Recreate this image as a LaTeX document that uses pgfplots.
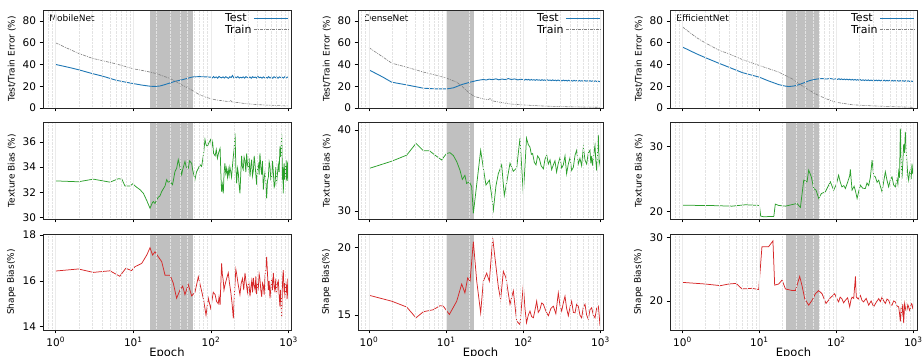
\documentclass[border=0pt]{standalone}
\usepackage{fontspec}
\setmainfont{DejaVu Sans}
\usepackage{pgfplots}
\pgfplotsset{compat=1.18}
\pgfkeys{/pgf/number format/assume math mode=true}
\definecolor{tblue}{HTML}{1F77B4}
\definecolor{tgreen}{HTML}{2CA02C}
\definecolor{tred}{HTML}{D62728}
\definecolor{shade}{HTML}{C0C0C0}
\definecolor{tgray}{HTML}{7F7F7F}
\tikzset{
 rsTest/.style={tblue, line width=0.9pt},
 rsTrain/.style={tgray, line width=0.6pt, dash pattern=on 3pt off 1pt on 1pt off 1pt},
 rsGreen/.style={tgreen, line width=0.75pt},
 rsRed/.style={tred, line width=0.75pt},
}
\pgfplotsset{
 every axis/.append style={
  scale only axis, axis on top,
  tick align=outside, tick pos=left,
  xmajorgrids, xminorgrids,
  minor grid style={densely dotted, black!11, line width=0.5pt},
  major grid style={black!8, line width=0.9pt},
  axis line style={line width=0.9pt, black!85},
  major tick length=3.5pt, minor tick length=0pt,
  tick style={black, line width=0.6pt},
  tick label style={font=\fontsize{10.5}{12}\selectfont},
  label style={font=\fontsize{9}{10}\selectfont},
 },
 legend image code/.code={\draw[#1] (0.25cm,0cm) -- (1.45cm,0cm);},
}
\newcommand{\mtx}{0.7,0.8,0.9,2,3,4,5,6,7,8,9,20,30,40,50,60,70,80,90,200,300,400,500,600,700,800,900}

\begin{document}
\begin{tikzpicture}
\useasboundingbox (0pt,0pt) rectangle (922pt,356pt);

% ================= Column 1: MobileNet =================
\begin{axis}[xmode=log, xtick={1,10,100,1000}, minor xtick/.expanded={\mtx}, xticklabels={},
 at={(43pt,248pt)}, anchor=south west, width=248pt, height=98pt, xmin=0.687, xmax=1072,
 ymin=0, ymax=90, ytick={0,20,40,60,80}, ylabel={Test/Train Error (\%)},
 legend plot pos=right, legend cell align=left,
 legend style={draw=none, fill=none, at={(0.995,1.0)}, anchor=north east, font=\fontsize{11}{12}\selectfont, row sep=-2pt, inner sep=1pt}]
\addplot[fill=shade, draw=none, forget plot] coordinates {(16.4,0)(59,0)(59,90)(16.4,90)};
\addplot[rsTest] coordinates {(1,40)(1.5,37.2)(2,35)(3,31.5)(4,29.3)(6,25.5)(8,23.7)(10,22.4)(13,21)(16.4,20)(19,19.8)(22,20.2)(25,21.3)(29.7,23)(35,24.6)(43,26)(50,27.3)(58,28.5)(70,28.8)(85,28.6)
(100,28.3)(104,27.6)(108,28.9)(112,27.8)(117,28.5)(122,27.4)(127,29.0)(132,28.1)(137,27.7)(143,28.6)(149,27.5)(155,28.8)(161,28.0)(168,27.3)(175,28.7)(182,27.9)(189,29.8)(197,27.6)(205,28.4)(213,27.8)(222,28.9)(231,27.5)(240,28.2)(250,27.7)(260,28.6)(271,27.4)(282,28.8)(293,28.0)(305,27.6)(317,28.5)(330,27.3)(343,28.7)(357,27.9)(372,28.4)(387,27.5)(403,28.9)(419,27.8)(436,28.3)(454,27.4)(472,28.6)(491,27.7)(511,28.2)(532,27.5)(553,28.8)(576,27.6)(599,28.4)(623,27.3)(648,28.7)(675,27.8)(702,28.5)(730,27.4)(760,28.6)(791,27.9)(823,28.3)(856,27.5)(891,28.7)(927,27.6)(965,28.4)(1000,27.8)};
\addlegendentry{Test}
\addplot[rsTrain] coordinates {(1,59.8)(1.5,54)(2,50)(3,45.5)(4,43.5)(6,40.5)(8,38)(10,36)(13,34.5)(16.4,33)(20,31.5)(25,29)(30,27)(35,24.5)(40,22)(50,18.5)(58,16)(70,12.5)(85,10)(99,8.6)(110,7.8)(120,7.3)(135,6.8)(150,6.3)(165,6.0)(175,5.8)(180,6.8)(185,5.6)(200,5.4)(220,5.0)(240,4.7)(260,4.3)(280,4.0)(300,3.8)(330,3.6)(351,3.4)(400,3.1)(450,2.9)(500,2.7)(600,2.5)(700,2.3)(800,2.1)(900,2.0)(990,2.0)};
\addlegendentry{Train}
\node[anchor=north west, inner sep=0pt, font=\fontsize{9}{10}\selectfont] at (rel axis cs:0.025,0.95) {MobileNet};
\end{axis}

\begin{axis}[xmode=log, xtick={1,10,100,1000}, minor xtick/.expanded={\mtx}, xticklabels={},
 at={(43pt,137pt)}, anchor=south west, width=248pt, height=97pt, xmin=0.687, xmax=1072,
 ymin=29.86, ymax=37.6, ytick={30,32,34,36}, ylabel={Texture Bias (\%)}]
\addplot[fill=shade, draw=none, forget plot] coordinates {(16.4,29.86)(59,29.86)(59,37.6)(16.4,37.6)};
\addplot[rsGreen] coordinates {(1,32.9)(1.96,32.83)(3.05,33.04)(5,32.8)(6.4,33.07)(7.1,33.05)(7.8,32.5)(9.1,32.5)(9.8,32.67)(11,32.4)(12.2,32.2)(13.5,31.9)(14.9,31.33)(16.4,30.72)(17.7,31.2)(18.1,31.25)(19,31.1)(20,31.4)(21,31.6)(22,31.7)(23.2,32.05)(25.6,32.5)(26.9,33)(28,32.8)(29.7,32.85)(32,32.6)(34.4,33.65)(36.1,33.9)(37.9,34.6)(39.9,34.0)(41.9,33.4)(43.2,33.8)(46.2,34.45)(48,34.0)(51,33.9)(53,34.5)(56.4,34.3)(58,33.8)(62.2,33.0)(65,33.6)(68.7,33.9)(72,34.2)(75.8,34.05)(80,35.0)(83.7,36.2)(86.3,35.8)(89.8,35.65)(95,36.0)
(99,36.2)(102,35.6)(105,36.0)(108,35.1)(113,34.9)(117,35.4)(121,34.7)(126,35.2)(131,35.5)(134,33.5)(137,32.05)(140,32.6)(144,31.9)(147,33.4)(151,34.3)(155,33.5)(159,33.9)(163,33.2)(167,33.8)(171,33.3)(175,34.0)(180,33.6)(184,33.2)(189,34.1)(194,34.85)(199,35.5)(204,36.7)(209,34.0)(214,32.7)(220,33.9)(225,33.5)(230,32.6)(236,31.9)(242,33.5)(248,34.9)(254,34.0)(260,33.8)(267,34.8)(274,34.5)(281,33.6)(288,35.1)(295,34.2)(303,33.9)(310,34.7)(318,33.25)(326,34.1)(334,34.6)(342,33.3)(351,33.7)(360,34.9)(368,34.3)(377,33.5)(387,32.6)(397,33.9)(407,34.2)(417,33.4)(427,35.1)(438,34.0)(449,33.4)(460,34.5)(472,32.2)(484,33.1)(496,33.6)(508,32.8)(521,31.5)(534,32.9)(548,33.2)(561,34.4)(575,34.05)(590,33.0)(605,33.1)(620,34.5)(635,33.6)(651,32.4)(667,32.6)(683,34.0)(700,32.7)(718,33.5)(736,34.2)(754,33.6)(773,35.65)(792,34.8)(812,36.6)(822,35.2)(832,33.0)(842,34.0)(853,31.9)(864,33.5)(875,34.3)(886,33.0)(897,33.2)(908,34.0)(920,34.2)(931,33.0)(942,33.1)(954,34.4)(965,34.3)(977,32.9)(990,33.5)};
\end{axis}

\begin{axis}[xmode=log, xtick={1,10,100,1000}, minor xtick/.expanded={\mtx},
 xticklabels={10\textsuperscript{0},10\textsuperscript{1},10\textsuperscript{2},10\textsuperscript{3}},
 xlabel={Epoch}, xlabel style={font=\fontsize{11.5}{12}\selectfont, yshift=5.5pt},
 at={(43pt,26pt)}, anchor=south west, width=248pt, height=96pt, xmin=0.687, xmax=1072,
 ymin=13.85, ymax=18.05, ytick={14,16,18}, ylabel={Shape Bias(\%)}]
\addplot[fill=shade, draw=none, forget plot] coordinates {(16.4,13.85)(59,13.85)(59,18.05)(16.4,18.05)};
\addplot[rsRed] coordinates {(1,16.43)(1.96,16.52)(3.05,16.37)(5,16.44)(6.7,16.2)(8,16.55)(9.5,16.45)(10.5,16.62)(12.8,16.76)(14.9,17.13)(16.4,17.45)(17.7,17.13)(19,17.27)(21,17.05)(23.2,16.84)(25.6,16.25)(29.7,16.25)(32.7,15.9)(36.1,15.24)(39.9,15.6)(43.2,15.77)(46.2,15.4)(51,15.84)(56.4,15.34)(62.2,15.5)(68.7,16.18)(75.8,15.55)(80,15.2)(86.3,14.5)(92.4,15.24)
(99,14.8)(102,15.05)(107,15.5)(113,15.4)(118,15.1)(124,15.0)(127,15.3)(131,14.95)(134,15.9)(137,16.76)(140,16.3)(144,16.0)(147,15.6)(151,15.8)(159,16.1)(167,16.35)(173,15.9)(180,15.5)(187,15.0)(194,14.36)(199,15.2)(204,15.9)(209,16.5)(214,16.3)(225,15.8)(236,15.4)(245,15.9)(255,16.1)(264,15.6)(274,16.35)(284,15.9)(295,15.5)(306,16.0)(318,15.32)(326,15.7)(335,16.0)(343,15.5)(351,16.13)(360,15.8)(370,15.6)(378,16.2)(387,15.42)(397,15.9)(407,15.7)(417,16.3)(427,16.08)(438,15.6)(450,15.3)(461,15.9)(472,15.8)(484,15.4)(496,16.2)(508,16.5)(521,17.05)(534,16.3)(548,15.6)(561,16.0)(575,15.24)(590,15.7)(605,16.1)(620,15.6)(635,16.35)(651,15.8)(667,15.5)(683,16.1)(700,15.45)(718,15.9)(736,16.0)(754,15.4)(773,14.87)(786,15.6)(800,15.2)(806,14.7)(812,14.44)(822,15.1)(832,15.8)(842,16.2)(853,16.47)(864,15.9)(875,15.5)(886,15.9)(897,15.24)(908,15.6)(920,16.0)(931,15.5)(942,15.83)(954,15.2)(965,15.4)(977,16.1)(990,15.9)};
\end{axis}

% ================= Column 2: DenseNet =================
\begin{axis}[xmode=log, xtick={1,10,100,1000}, minor xtick/.expanded={\mtx}, xticklabels={},
 at={(358pt,248pt)}, anchor=south west, width=245pt, height=98pt, xmin=0.72, xmax=1078,
 ymin=0, ymax=90, ytick={0,20,40,60,80}, ylabel={Test/Train Error (\%)},
 legend plot pos=right, legend cell align=left,
 legend style={draw=none, fill=none, at={(0.995,1.0)}, anchor=north east, font=\fontsize{11}{12}\selectfont, row sep=-2pt, inner sep=1pt}]
\addplot[fill=shade, draw=none, forget plot] coordinates {(10.1,0)(23.2,0)(23.2,90)(10.1,90)};
\addplot[rsTest] coordinates {(1,35)(1.5,28.5)(1.97,23.7)(3.08,21.2)(5.06,18.2)(7.53,17.5)(10.1,17.5)(12.4,18.5)(15.9,21.5)(20.4,23.7)(24.9,25.2)(30.3,26.2)(33,25.7)(36,26.5)(40,26.0)(44,26.8)(48,25.9)(53,26.6)(58,26.1)(64,27.0)(70,26.2)(77,26.7)(85,25.8)(92,26.4)
(100,26.1)(104,25.6)(108,26.4)(112,25.7)(117,26.3)(122,25.5)(127,26.2)(132,25.6)(137,26.0)(143,25.4)(149,26.1)(155,25.5)(161,25.9)(168,25.3)(175,26.0)(182,25.4)(189,25.8)(197,25.2)(205,25.9)(213,25.3)(222,25.7)(231,25.1)(240,25.8)(250,25.2)(260,25.6)(271,25.0)(282,25.7)(293,25.1)(305,25.5)(317,24.9)(330,25.6)(343,25.0)(357,25.4)(372,24.8)(387,25.5)(403,24.9)(419,25.3)(436,24.7)(454,25.4)(472,24.8)(491,25.2)(511,24.6)(532,25.3)(553,24.7)(576,25.1)(599,24.5)(623,25.2)(648,24.6)(675,25.0)(702,24.4)(730,25.1)(760,24.5)(791,24.9)(823,24.3)(856,25.0)(891,24.4)(927,24.8)(965,24.2)(1000,24.7)};
\addlegendentry{Test}
\addplot[rsTrain] coordinates {(1,55.4)(1.5,47)(1.97,41.2)(3.08,37.5)(5.06,33)(7.53,30)(10.1,27.4)(13.7,23.7)(16,20)(18.4,16)(21,12.5)(23.6,10.5)(30.3,8.3)(35,7.8)(37,8.6)(40,6.5)(45,5.8)(67,3.7)(100,2.8)(182,1.8)(300,1.3)(500,1.0)(986,0.6)};
\addlegendentry{Train}
\node[anchor=north west, inner sep=0pt, font=\fontsize{9}{10}\selectfont] at (rel axis cs:0.025,0.95) {DenseNet};
\end{axis}

\begin{axis}[xmode=log, xtick={1,10,100,1000}, minor xtick/.expanded={\mtx}, xticklabels={},
 at={(358pt,137pt)}, anchor=south west, width=245pt, height=97pt, xmin=0.72, xmax=1078,
 ymin=29, ymax=41, ytick={30,40}, ylabel={Texture Bias (\%)}]
\addplot[fill=shade, draw=none, forget plot] coordinates {(10.1,29)(23.2,29)(23.2,41)(10.1,41)};
\addplot[rsGreen] coordinates {(1,35.25)(1.97,36.15)(3.08,36.9)(4.06,38.35)(5.06,37.45)(6.05,37.45)(7.17,36.9)(8.74,36.3)(10.1,37.1)(11.2,37.2)(12.4,36.85)(13.7,36.1)(15.1,35.04)(16.2,33.9)(17.5,34.4)(18.4,33.4)(20,33.6)(21.4,33.0)(22.5,29.7)(24.9,33.3)(28,37.5)(30.3,35.3)(32.8,33.2)(36.3,33.8)(38.9,31.9)(40.9,30.1)(44.2,33.1)(47.4,34.6)(52.4,35.7)(56.7,31.9)(60.8,33.5)(67.2,35.9)(74.2,34.9)(82,35.3)(90.5,39.0)
(100,32.1)(105,35.5)(110,39.0)(116,38.2)(122,37.9)(127,37.0)(132,37.1)(139,36.0)(146,35.7)(153,36.8)(161,36.5)(170,35.6)(182,35.2)(191,36.4)(201,36.9)(211,35.8)(222,36.3)(233,35.1)(245,35.7)(257,36.2)(270,34.8)(284,35.9)(299,36.6)(314,35.3)(330,35.7)(347,36.8)(364,34.6)(383,35.8)(403,36.6)(423,35.0)(445,35.4)(468,36.9)(491,37.5)(516,35.8)(542,36.5)(570,35.6)(600,37.9)(630,36.3)(662,35.8)(696,37.2)(731,37.5)(750,35.9)(769,36.8)(788,35.6)(808,36.5)(828,37.4)(849,38.1)(870,36.2)(892,35.0)(915,37.0)(938,39.4)(962,35.8)(986,36.3)};
\end{axis}

\begin{axis}[xmode=log, xtick={1,10,100,1000}, minor xtick/.expanded={\mtx},
 xticklabels={10\textsuperscript{0},10\textsuperscript{1},10\textsuperscript{2},10\textsuperscript{3}},
 xlabel={Epoch}, xlabel style={font=\fontsize{11.5}{12}\selectfont, yshift=5.5pt},
 at={(358pt,26pt)}, anchor=south west, width=245pt, height=96pt, xmin=0.72, xmax=1078,
 ymin=13.9, ymax=21, ytick={15,20}, ylabel={Shape Bias(\%)}]
\addplot[fill=shade, draw=none, forget plot] coordinates {(10.1,13.9)(23.2,13.9)(23.2,21)(10.1,21)};
\addplot[rsRed] coordinates {(1,16.47)(1.97,16.03)(3.08,15.6)(4.06,14.8)(5.06,15.25)(6.82,15.4)(8.32,15.7)(9.19,15.66)(11,15.05)(13.7,16.03)(15.9,17.3)(17.5,16.64)(19,17.75)(20.4,17.5)(22.5,20.44)(24.9,17.5)(28,15.17)(30.3,17.5)(33.5,18.1)(36.3,17.5)(40.1,20.7)(43,19.2)(47.4,17.1)(50.8,16.15)(55.1,18.24)(59.6,17.75)(67.2,15.8)(74.2,16.8)(82,14.56)(90.5,14.3)
(100,17.25)(105,15.5)(110,14.43)(116,15.0)(122,15.3)(128,14.9)(135,14.8)(142,15.4)(149,16.03)(156,15.2)(164,15.4)(173,15.9)(182,15.8)(196,15.3)(211,14.95)(228,15.5)(245,15.66)(264,15.1)(284,16.64)(299,15.7)(314,15.3)(330,15.9)(347,16.4)(364,15.5)(383,14.95)(403,15.6)(423,16.03)(445,15.2)(468,15.17)(491,15.8)(516,15.66)(542,15.0)(570,14.8)(600,15.6)(630,15.8)(662,15.0)(696,14.7)(731,15.4)(769,15.54)(808,15.0)(849,14.8)(892,15.5)(938,15.66)(962,15.0)(986,14.2)};
\end{axis}

% ================= Column 3: EfficientNet =================
\begin{axis}[xmode=log, xtick={1,10,100,1000}, minor xtick/.expanded={\mtx}, xticklabels={},
 at={(670pt,248pt)}, anchor=south west, width=247pt, height=98pt, xmin=0.69, xmax=1116,
 ymin=0, ymax=90, ytick={0,20,40,60,80}, ylabel={Test/Train Error (\%)},
 legend plot pos=right, legend cell align=left,
 legend style={draw=none, fill=none, at={(0.995,1.0)}, anchor=north east, font=\fontsize{11}{12}\selectfont, row sep=-2pt, inner sep=1pt}]
\addplot[fill=shade, draw=none, forget plot] coordinates {(22.2,0)(59,0)(59,90)(22.2,90)};
\addplot[rsTest] coordinates {(1,56)(1.5,50)(1.99,46.2)(3,41)(4,37.5)(6,32.5)(10,28.3)(13,25)(17.8,21.5)(21,20.3)(24,19.7)(28,20.2)(33,21.5)(39,23.5)(45,25.2)(52,26.2)(59,26.8)(66,27.0)(74,26.6)(83,27.1)(92,26.5)
(100,26.8)(104,26.2)(108,26.9)(112,26.1)(117,26.7)(122,26.0)(127,26.6)(132,25.9)(137,26.5)(143,25.8)(149,26.4)(155,25.7)(161,26.3)(168,25.6)(175,26.2)(182,25.5)(189,26.1)(197,25.4)(205,26.0)(213,25.3)(222,25.9)(231,25.2)(240,25.8)(250,25.2)(260,25.8)(271,25.1)(282,25.7)(293,25.1)(305,25.7)(317,25.0)(330,25.6)(343,25.0)(357,25.6)(372,24.9)(387,25.5)(403,24.9)(419,25.5)(436,24.8)(454,25.4)(472,24.8)(491,25.4)(511,24.7)(532,25.3)(553,24.7)(576,25.3)(599,24.6)(623,25.2)(648,24.6)(675,25.2)(702,24.5)(730,25.1)(760,24.5)(791,25.1)(823,24.4)(856,25.0)(891,24.4)(927,25.0)(965,24.3)(1000,24.8)};
\addlegendentry{Test}
\addplot[rsTrain] coordinates {(1,74.5)(1.5,65)(1.99,59.7)(3,53)(4,49.8)(6,44.5)(10,39)(17.8,33)(26.6,26.8)(39.4,18.5)(59,11.4)(80,7.5)(100,5.2)(160,3)(250,2.2)(400,1.6)(1000,0.6)};
\addlegendentry{Train}
\node[anchor=north west, inner sep=0pt, font=\fontsize{9}{10}\selectfont] at (rel axis cs:0.025,0.95) {EfficientNet};
\end{axis}

\begin{axis}[xmode=log, xtick={1,10,100,1000}, minor xtick/.expanded={\mtx}, xticklabels={},
 at={(670pt,137pt)}, anchor=south west, width=247pt, height=97pt, xmin=0.69, xmax=1116,
 ymin=18.9, ymax=33.7, ytick={20,30}, ylabel={Texture Bias (\%)}]
\addplot[fill=shade, draw=none, forget plot] coordinates {(22.2,18.9)(59,18.9)(59,33.7)(22.2,33.7)};
\addplot[rsGreen] coordinates {(1,21.0)(2.43,20.95)(4.42,20.86)(6.58,21.07)(10,20.97)(10.4,19.34)(11.4,19.24)(15.4,19.3)(16.1,21.17)(17.8,20.97)(21.8,20.86)(26.6,21.1)(30.8,21.27)(34.1,20.66)(37.7,24.82)(41.6,24.56)(43.7,26.35)(47.3,25.33)(50.8,23.55)(54.5,23.3)(59,22.03)(63.9,22.79)(72,23.05)(83.6,24.57)(92.3,23.3)
(100,24.2)(107,25.58)(112,24.6)(118,23.8)(125,24.0)(131,23.55)(140,24.5)(149,25.5)(152,26.45)(156,24.8)(160,23.3)(170,23.9)(177,23.2)(186,22.03)(195,23.1)(205,24.06)(220,23.6)(238,23.55)(250,24.4)(263,24.0)(277,25.3)(291,27.87)(305,25.5)(321,25.33)(338,24.5)(355,24.82)(373,23.9)(392,23.05)(412,24.6)(433,26.1)(455,24.8)(478,23.8)(503,24.9)(528,25.33)(555,24.1)(584,23.8)(614,25.0)(630,24.2)(645,26.1)(662,25.2)(678,32.7)(695,28.0)(712,25.08)(730,27.5)(749,30.3)(768,29.0)(787,32.2)(807,29.5)(827,27.36)(848,25.5)(869,24.82)(891,26.0)(914,26.35)(937,25.0)(961,27.36)(980,25.8)(1000,26.6)};
\end{axis}

\begin{axis}[xmode=log, xtick={1,10,100,1000}, minor xtick/.expanded={\mtx},
 xticklabels={10\textsuperscript{0},10\textsuperscript{1},10\textsuperscript{2},10\textsuperscript{3}},
 xlabel={Epoch}, xlabel style={font=\fontsize{11.5}{12}\selectfont, yshift=5.5pt},
 at={(670pt,26pt)}, anchor=south west, width=247pt, height=96pt, xmin=0.69, xmax=1116,
 ymin=15.4, ymax=30.6, ytick={20,30}, ylabel={Shape Bias(\%)}]
\addplot[fill=shade, draw=none, forget plot] coordinates {(22.2,15.4)(59,15.4)(59,30.6)(22.2,30.6)};
\addplot[rsRed] coordinates {(1,22.94)(1.99,22.68)(3.12,22.42)(4.0,22.68)(4.98,22.78)(5.95,21.9)(8.03,22.0)(9.8,21.8)(10.8,28.6)(13.2,28.6)(15.0,29.5)(15.8,22.5)(17.8,22.68)(19.7,23.3)(21.8,21.9)(26.6,21.65)(29.4,21.65)(33.4,23.87)(35.8,22.42)(38.8,20.36)(43.7,19.33)(48.3,20.1)(53.4,21.13)(59,21.65)(65.2,21.13)(73.4,19.6)(83.6,20.5)(95.1,21.13)
(101,20.4)(107,19.85)(112,20.6)(118,20.36)(124,19.7)(131,20.1)(140,20.5)(149,19.07)(155,20.2)(160,20.6)(168,20.4)(177,23.87)(180,21.5)(182,20.6)(193,20.3)(205,20.87)(215,20.1)(226,19.85)(244,20.4)(263,19.33)(283,20.0)(305,19.07)(330,19.8)(355,20.36)(373,19.9)(392,20.6)(412,20.0)(433,19.6)(455,20.3)(478,20.1)(503,19.4)(528,19.33)(555,20.0)(584,19.85)(614,19.2)(645,19.07)(662,18.0)(678,16.75)(695,19.0)(712,18.0)(730,19.5)(749,16.5)(760,18.0)(771,19.6)(800,18.5)(827,18.56)(848,19.4)(869,19.07)(891,18.5)(914,18.8)(937,19.6)(961,19.5)(980,18.9)(1000,19.2)};
\end{axis}
\end{tikzpicture}
\end{document}
